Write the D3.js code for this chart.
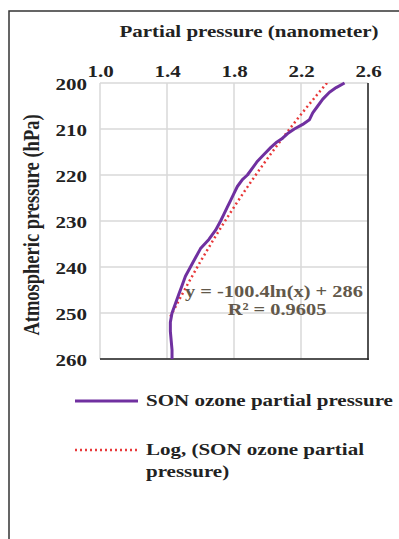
<!DOCTYPE html>
<html><head><meta charset="utf-8">
<script src="https://cdn.jsdelivr.net/npm/d3@7"></script>
<style>body{margin:0;background:#fff;}svg{display:block;}</style>
</head><body><svg id="c" width="399" height="539"></svg>
<script>
// Data
const pressure = [200, 201, 202, 203.5, 205, 206.5, 208, 209, 210, 211, 212, 213, 214, 215.5, 217, 218.5, 220, 221, 222.5, 224, 225.5, 227, 228.5, 230, 232, 234, 236, 238, 240, 242, 244, 246, 248, 250, 252, 254, 256, 258, 260];
const partial = [2.46, 2.41, 2.37, 2.33, 2.30, 2.27, 2.25, 2.21, 2.16, 2.12, 2.09, 2.05, 2.02, 1.98, 1.94, 1.91, 1.88, 1.85, 1.82, 1.80, 1.78, 1.76, 1.74, 1.72, 1.69, 1.65, 1.60, 1.57, 1.54, 1.51, 1.49, 1.47, 1.45, 1.43, 1.42, 1.42, 1.425, 1.43, 1.43];
const xTicks = [1.0, 1.4, 1.8, 2.2, 2.6];
const yTicks = [200, 210, 220, 230, 240, 250, 260];
const trendA = -100.4, trendB = 286;
const eqText = "y = -100.4ln(x) + 286";
const r2Text = "R\u00b2 = 0.9605";
const xTitle = "Partial pressure (nanometer)";
const yTitle = "Atmospheric pressure (hPa)";
const legendLabels = ["SON ozone partial pressure", ["Log, (SON ozone partial", "pressure)"]];

const svg = d3.select("#c");
const FONT = "'Liberation Serif','Times New Roman',serif";
const SX = 1.2; // horizontal stretch of the reference's lettering
const L = 100, R = 368, T = 83, B = 359;
const x = d3.scaleLinear().domain([1.0, 2.6]).range([L, R]);
const y = d3.scaleLinear().domain([200, 260]).range([T, B]);

function label(px, py, txt, opts) {
  const o = Object.assign({size: 17.5, anchor: "start", fill: "#222", rotate: 0}, opts || {});
  const t = svg.append("text")
    .attr("transform", `translate(${px},${py}) scale(${SX},1)` + (o.rotate ? ` rotate(${o.rotate})` : ""))
    .attr("text-anchor", o.anchor).attr("font-family", FONT).attr("font-weight", "bold")
    .attr("font-size", o.size).attr("fill", o.fill);
  if (Array.isArray(txt)) {
    t.selectAll("tspan").data(txt).enter().append("tspan").attr("x", 0).attr("dy", (d, i) => i ? o.lh : 0).text(d => d);
  } else t.text(txt);
  return t;
}

// outer frame
svg.append("path").attr("d", "M9,539 L9,11 L399,11").attr("fill","none").attr("stroke","#333").attr("stroke-width",1.5);

// grid
const g = svg.append("g");
g.selectAll("line.vx").data(xTicks).enter().append("line")
  .attr("x1", d=>x(d)).attr("x2", d=>x(d)).attr("y1", T).attr("y2", B)
  .attr("stroke", "#d9d9d9").attr("stroke-width", 1.5);
g.selectAll("line.hy").data(yTicks).enter().append("line")
  .attr("y1", d=>y(d)).attr("y2", d=>y(d)).attr("x1", L).attr("x2", R)
  .attr("stroke", "#d9d9d9").attr("stroke-width", 1.5);
// dark right and bottom borders
svg.append("line").attr("x1", R).attr("x2", R).attr("y1", T).attr("y2", B+1).attr("stroke","#222").attr("stroke-width",1.5);
svg.append("line").attr("x1", L).attr("x2", R+0.75).attr("y1", B).attr("y2", B).attr("stroke","#222").attr("stroke-width",1.5);

// axes (top and left) using d3 axes, lines hidden
const xAxis = svg.append("g").attr("transform", `translate(0,${T-6})`)
  .call(d3.axisTop(x).tickValues(xTicks).tickFormat(d3.format(".1f")).tickSize(0));
const yAxis = svg.append("g").attr("transform", `translate(${L-13},0)`)
  .call(d3.axisLeft(y).tickValues(yTicks).tickFormat(d3.format("d")).tickSize(0).tickPadding(0));
[xAxis, yAxis].forEach(a => {
  a.select(".domain").remove();
  a.selectAll("text").attr("font-family", FONT).attr("font-weight","bold").attr("font-size", 17.5)
    .attr("fill","#222").attr("transform", `scale(${SX},1)`);
});
xAxis.selectAll("text").attr("dy", 0).attr("y", 0);
yAxis.selectAll("text").attr("dy", "0.35em").attr("x", 0);

// axis titles
label(249, 37, xTitle, {anchor: "middle"});
label(39, 225, yTitle, {anchor: "middle", rotate: -90, size: 18.5});

// clip
svg.append("clipPath").attr("id","clip").append("rect").attr("x", L).attr("y", T).attr("width", R-L).attr("height", B-T);

// trendline
const xmin = d3.min(partial), xmax = d3.max(partial);
const trendPts = d3.range(0, 101).map(i => {
  const xv = xmin + (xmax - xmin) * i / 100;
  return [xv, trendA * Math.log(xv) + trendB];
});
const line = d3.line().x(d=>x(d[0])).y(d=>y(d[1]));
svg.append("path").attr("clip-path","url(#clip)").datum(trendPts).attr("d", line)
  .attr("fill","none").attr("stroke","#e8393a").attr("stroke-width",2.5).attr("stroke-dasharray","2,3");

// data line
svg.append("path").datum(partial.map((v,i)=>[v, pressure[i]])).attr("d", line)
  .attr("fill","none").attr("stroke","#7030a0").attr("stroke-width",3).attr("stroke-linejoin","round");

// equation
label(185, 297, eqText, {size: 17, fill: "#62584a"});
label(277, 315, r2Text, {size: 17, fill: "#62584a", anchor: "middle"});

// legend
svg.append("line").attr("x1", 75).attr("x2", 138).attr("y1", 401).attr("y2", 401).attr("stroke","#7030a0").attr("stroke-width",3);
svg.append("line").attr("x1", 75).attr("x2", 138).attr("y1", 450).attr("y2", 450).attr("stroke","#e8393a").attr("stroke-width",2.5).attr("stroke-dasharray","2,3");
label(146, 406, legendLabels[0]);
label(146, 455, legendLabels[1], {lh: 22});
</script></body></html>
